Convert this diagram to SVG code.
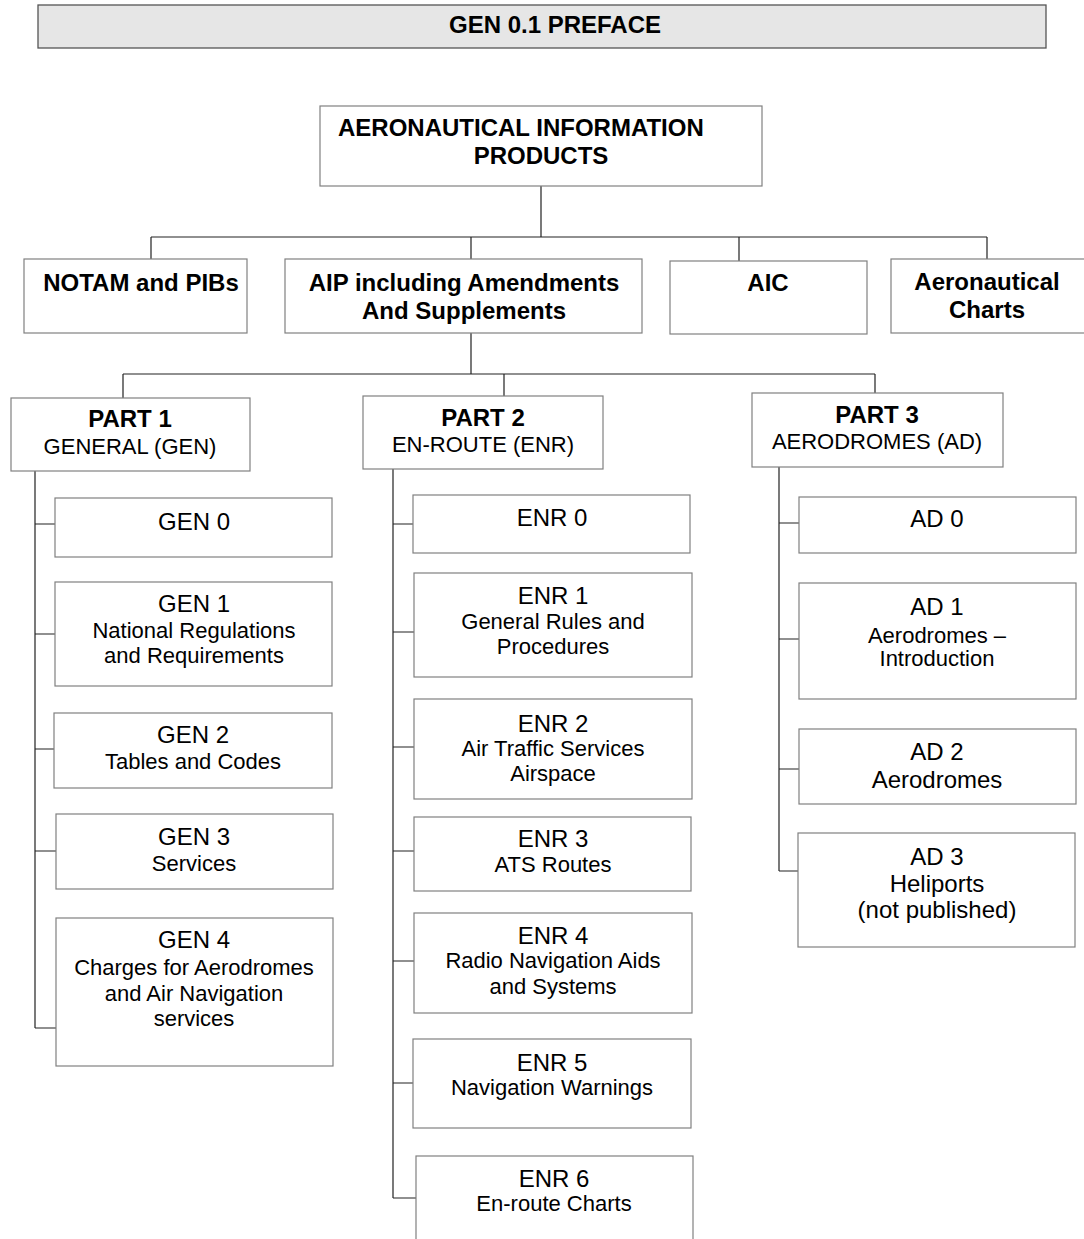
<svg xmlns="http://www.w3.org/2000/svg" width="1084" height="1239" viewBox="0 0 1084 1239">
<style>
text{font-family:"Liberation Sans",Arial,sans-serif;fill:#000;text-anchor:middle}
.b{font-weight:bold;font-size:24px}
.h{font-size:24px}
.s{font-size:22px}
.box{fill:#fff;stroke:#808080;stroke-width:1.2}
.title{fill:#e6e6e6;stroke:#555;stroke-width:1.3}
.conn path{fill:none;stroke:#222;stroke-width:1.2}
</style>
<rect width="1084" height="1239" fill="#fff"/>
<g id="title"><rect class="title" x="38" y="5" width="1008" height="43"/><text class="b" x="555" y="33">GEN 0.1 PREFACE</text></g>
<g class="conn" id="connectors">
<path d="M541,186V237M151,237H987M151,237V259M471,237V259M739,237V261M987,237V259"/>
<path d="M471,333V374M123,374H875M123,374V398M504,374V396M875,374V393"/>
<path d="M35,471V1028M35,524H55M35,634H55M35,749H54M35,851H56M35,1028H56"/>
<path d="M393,469V1198M393,524H413M393,632H414M393,747H414M393,851H414M393,961H414M393,1083H413M393,1198H416"/>
<path d="M779,467V871M779,523H799M779,639H799M779,769H799M779,871H798"/>
</g>
<g id="aip-products"><rect class="box" x="320" y="106" width="442" height="80"/><text class="b" x="338" y="136" style="text-anchor:start">AERONAUTICAL INFORMATION</text><text class="b" x="541" y="164">PRODUCTS</text></g>
<g id="notam"><rect class="box" x="24" y="259" width="223" height="74"/><text class="b" x="141" y="291">NOTAM and PIBs</text></g>
<g id="aip"><rect class="box" x="285" y="259" width="357" height="74"/><text class="b" x="464" y="291">AIP including Amendments</text><text class="b" x="464" y="319">And Supplements</text></g>
<g id="aic"><rect class="box" x="670" y="261" width="197" height="73"/><text class="b" x="768" y="291">AIC</text></g>
<g id="charts"><rect class="box" x="891" y="259" width="200" height="74"/><text class="b" x="987" y="290">Aeronautical</text><text class="b" x="987" y="318">Charts</text></g>
<g id="part1"><rect class="box" x="11" y="398" width="239" height="73"/><text class="b" x="130" y="427">PART 1</text><text class="s" x="130" y="454">GENERAL (GEN)</text></g>
<g id="part2"><rect class="box" x="363" y="396" width="240" height="73"/><text class="b" x="483" y="426">PART 2</text><text class="s" x="483" y="452">EN-ROUTE (ENR)</text></g>
<g id="part3"><rect class="box" x="752" y="393" width="251" height="74"/><text class="b" x="877" y="423">PART 3</text><text class="s" x="877" y="449">AERODROMES (AD)</text></g>
<g id="gen0"><rect class="box" x="55" y="498" width="277" height="59"/><text class="h" x="194" y="530">GEN 0</text></g>
<g id="gen1"><rect class="box" x="55" y="582" width="277" height="104"/><text class="h" x="194" y="612">GEN 1</text><text class="s" x="194" y="638">National Regulations</text><text class="s" x="194" y="663">and Requirements</text></g>
<g id="gen2"><rect class="box" x="54" y="713" width="278" height="75"/><text class="h" x="193" y="743">GEN 2</text><text class="s" x="193" y="769">Tables and Codes</text></g>
<g id="gen3"><rect class="box" x="56" y="814" width="277" height="75"/><text class="h" x="194" y="845">GEN 3</text><text class="s" x="194" y="871">Services</text></g>
<g id="gen4"><rect class="box" x="56" y="918" width="277" height="148"/><text class="h" x="194" y="948">GEN 4</text><text class="s" x="194" y="975">Charges for Aerodromes</text><text class="s" x="194" y="1001">and Air Navigation</text><text class="s" x="194" y="1026">services</text></g>
<g id="enr0"><rect class="box" x="413" y="495" width="277" height="58"/><text class="h" x="552" y="526">ENR 0</text></g>
<g id="enr1"><rect class="box" x="414" y="573" width="278" height="104"/><text class="h" x="553" y="604">ENR 1</text><text class="s" x="553" y="629">General Rules and</text><text class="s" x="553" y="654">Procedures</text></g>
<g id="enr2"><rect class="box" x="414" y="699" width="278" height="100"/><text class="h" x="553" y="732">ENR 2</text><text class="s" x="553" y="756">Air Traffic Services</text><text class="s" x="553" y="781">Airspace</text></g>
<g id="enr3"><rect class="box" x="414" y="817" width="277" height="74"/><text class="h" x="553" y="847">ENR 3</text><text class="s" x="553" y="872">ATS Routes</text></g>
<g id="enr4"><rect class="box" x="414" y="913" width="278" height="100"/><text class="h" x="553" y="944">ENR 4</text><text class="s" x="553" y="968">Radio Navigation Aids</text><text class="s" x="553" y="994">and Systems</text></g>
<g id="enr5"><rect class="box" x="413" y="1039" width="278" height="89"/><text class="h" x="552" y="1071">ENR 5</text><text class="s" x="552" y="1095">Navigation Warnings</text></g>
<g id="enr6"><rect class="box" x="416" y="1156" width="277" height="100"/><text class="h" x="554" y="1187">ENR 6</text><text class="s" x="554" y="1211">En-route Charts</text></g>
<g id="ad0"><rect class="box" x="799" y="497" width="277" height="56"/><text class="h" x="937" y="527">AD 0</text></g>
<g id="ad1"><rect class="box" x="799" y="583" width="277" height="116"/><text class="h" x="937" y="615">AD 1</text><text class="s" x="937" y="643">Aerodromes –</text><text class="s" x="937" y="666">Introduction</text></g>
<g id="ad2"><rect class="box" x="799" y="729" width="277" height="75"/><text class="h" x="937" y="760">AD 2</text><text class="h" x="937" y="788">Aerodromes</text></g>
<g id="ad3"><rect class="box" x="798" y="833" width="277" height="114"/><text class="h" x="937" y="865">AD 3</text><text class="h" x="937" y="892">Heliports</text><text class="h" x="937" y="918">(not published)</text></g>
</svg>
